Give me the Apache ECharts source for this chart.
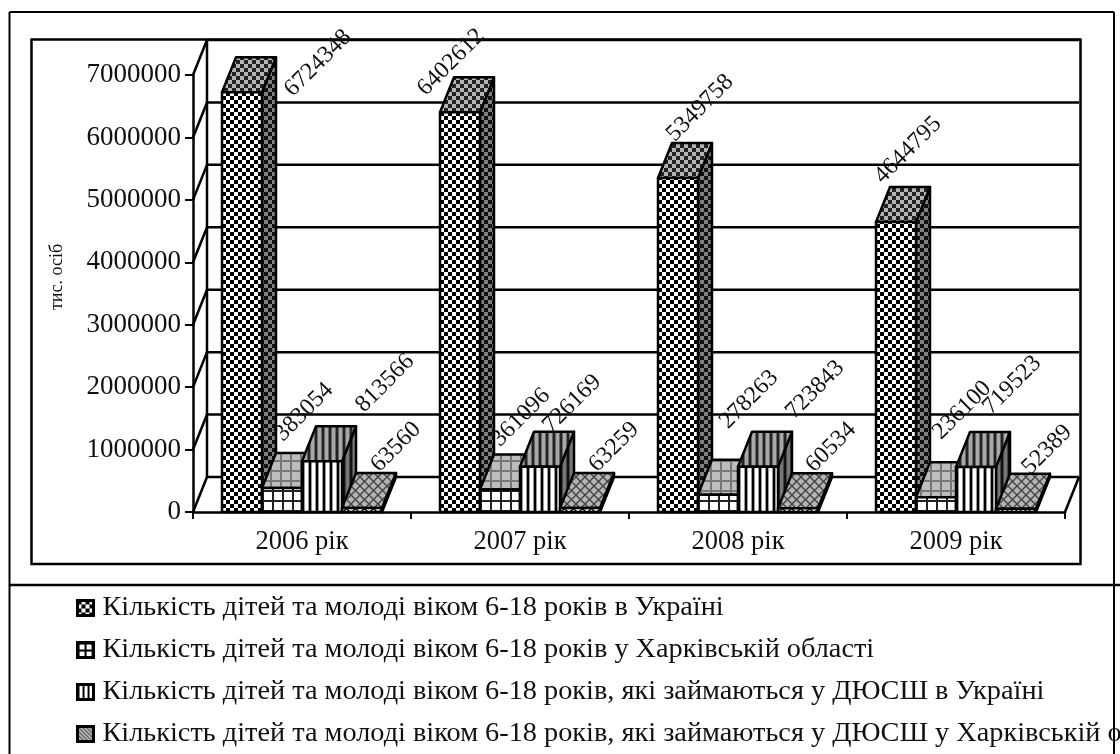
<!DOCTYPE html>
<html>
<head>
<meta charset="utf-8">
<style>
  html, body { margin: 0; padding: 0; background: #fff; }
  #chart { width: 1120px; height: 754px; }
</style>
<script src="https://cdn.jsdelivr.net/npm/echarts@6/dist/echarts.min.js"></script>
</head>
<body>
<div id="chart"></div>
<script>
// data
const categories = ['2006 рік', '2007 рік', '2008 рік', '2009 рік'];
const seriesNames = [
  'Кількість дітей та молоді віком 6-18 років в Україні',
  'Кількість дітей та молоді віком 6-18 років у Харківській області',
  'Кількість дітей та молоді віком 6-18 років, які займаються у ДЮСШ в Україні',
  'Кількість дітей та молоді віком 6-18 років, які займаються у ДЮСШ у Харківській області'
];
const ukraineKids = [6724348, 6402612, 5349758, 4644795];
const kharkivKids = [383054, 361096, 278263, 236100];
const ukraineSport = [813566, 726169, 723843, 719523];
const kharkivSport = [63560, 63259, 60534, 52389];
const yTicks = [0, 1000000, 2000000, 3000000, 4000000, 5000000, 6000000, 7000000];

// hand placed labels in the original, shift from top of the bar [dx, dy]
const labelShift = [
  [[76, -29], [-9, -50], [22, -70], [12, -72]],
  [[22, -76], [21, -72], [31, -95], [26, -87]],
  [[63, -78], [32, -63], [57, -77], [36, -82]],
  [[34, -61], [34, -61], [33, -61], [31, -59]]
];

const FONT = '"Liberation Serif", "Times New Roman", serif';
const DEPTH_X = 14;
const DEPTH_Y = -35;
const BAR_W = 40;

function tile(w, h, draw) {
  const c = document.createElement('canvas');
  c.width = w;
  c.height = h;
  draw(c.getContext('2d'));
  return c;
}

function checker(bg, fg) {
  return tile(8, 8, function (g) {
    g.fillStyle = bg;
    g.fillRect(0, 0, 8, 8);
    g.fillStyle = fg;
    g.fillRect(0, 0, 4, 4);
    g.fillRect(4, 4, 4, 4);
  });
}
function grid(bg, fg, size) {
  return tile(size, size, function (g) {
    g.fillStyle = bg;
    g.fillRect(0, 0, size, size);
    g.fillStyle = fg;
    g.fillRect(0, 0, 2, size);
    g.fillRect(0, 0, size, 2);
  });
}
function stripes(bg, mid, fg) {
  return tile(7, 4, function (g) {
    g.fillStyle = bg;
    g.fillRect(0, 0, 7, 4);
    g.fillStyle = mid;
    g.fillRect(2, 0, 1, 4);
    g.fillRect(6, 0, 1, 4);
    g.fillStyle = fg;
    g.fillRect(0, 0, 2, 4);
  });
}
function trellis(bg, fg) {
  return tile(9, 9, function (g) {
    g.fillStyle = bg;
    g.fillRect(0, 0, 9, 9);
    g.strokeStyle = fg;
    g.lineWidth = 1.4;
    g.beginPath();
    g.moveTo(0, 0); g.lineTo(9, 9);
    g.moveTo(9, 0); g.lineTo(0, 9);
    g.stroke();
  });
}
function diagonal() {
  return tile(4, 4, function (g) {
    g.fillStyle = '#ddd';
    g.fillRect(0, 0, 4, 4);
    g.strokeStyle = '#222';
    g.lineWidth = 1.2;
    g.beginPath();
    g.moveTo(-1, -1); g.lineTo(5, 5);
    g.moveTo(3, -1); g.lineTo(5, 1);
    g.moveTo(-1, 3); g.lineTo(1, 5);
    g.stroke();
  });
}

const faces = [
  { front: checker('#fff', '#000'), top: checker('#b4b4b4', '#222'), side: checker('#808080', '#111') },
  { front: grid('#fff', '#222', 10), top: grid('#bdbdbd', '#777', 10), side: grid('#777', '#222', 10) },
  { front: stripes('#fff', '#999', '#000'), top: stripes('#a8a8a8', '#666', '#222'), side: stripes('#777', '#444', '#111') },
  { front: trellis('#fff', '#000'), top: trellis('#b4b4b4', '#444'), side: trellis('#808080', '#222') }
];
const iconTiles = [
  checker('#fff', '#000'),
  grid('#fff', '#000', 7),
  tile(5, 4, function (g) {
    g.fillStyle = '#fff';
    g.fillRect(0, 0, 5, 4);
    g.fillStyle = '#000';
    g.fillRect(0, 0, 2, 4);
  }),
  diagonal()
];

function pat(image, x, y) {
  return { image: image, repeat: 'repeat', x: x, y: y };
}

function renderBar(s) {
  return function (params, api) {
    const i = api.value(0);
    const val = api.value(1);
    const base = api.coord([i, 0]);
    const topPt = api.coord([i, val]);
    const cx = base[0] + (s - 1.5) * BAR_W;
    const l = cx - BAR_W / 2, r = cx + BAR_W / 2;
    const b = base[1], t = topPt[1];
    const dx = DEPTH_X, dy = DEPTH_Y;
    const line = { stroke: '#000', lineWidth: 2.5, lineJoin: 'round' };
    const shift = labelShift[s][i];
    return {
      type: 'group',
      children: [
        {
          type: 'polygon',
          shape: { points: [[r, b], [r + dx, b + dy], [r + dx, t + dy], [r, t]] },
          style: Object.assign({ fill: pat(faces[s].side, 0, 0) }, line)
        },
        {
          type: 'polygon',
          shape: { points: [[l, t], [l + dx, t + dy], [r + dx, t + dy], [r, t]] },
          style: Object.assign({ fill: pat(faces[s].top, 0, 0) }, line)
        },
        {
          type: 'rect',
          shape: { x: l, y: t, width: BAR_W, height: b - t },
          style: Object.assign({ fill: pat(faces[s].front, l, 0) }, line)
        },
        {
          type: 'text',
          x: cx + shift[0],
          y: t + shift[1],
          rotation: Math.PI / 4,
          z2: 100,
          style: {
            text: String(val),
            font: '24px ' + FONT,
            fill: '#111',
            align: 'center',
            verticalAlign: 'middle'
          }
        }
      ]
    };
  };
}

function renderWall(params, api) {
  const sys = params.coordSys;
  const y = api.coord([0, api.value(0)])[1];
  const x0 = sys.x, x1 = sys.x + sys.width;
  const line = { stroke: '#000', lineWidth: 2.5 };
  const parts = [
    { type: 'line', shape: { x1: x0, y1: y, x2: x0 + DEPTH_X, y2: y + DEPTH_Y }, style: line },
    { type: 'line', shape: { x1: x0 + DEPTH_X, y1: y + DEPTH_Y, x2: x1 + DEPTH_X, y2: y + DEPTH_Y }, style: line }
  ];
  if (api.value(0) === 0) {
    parts.push({ type: 'line', shape: { x1: x1, y1: y, x2: x1 + DEPTH_X, y2: y + DEPTH_Y }, style: line });
    parts.push({ type: 'line', shape: { x1: x0 + DEPTH_X, y1: y + DEPTH_Y, x2: x0 + DEPTH_X, y2: sys.y + DEPTH_Y }, style: line });
  }
  return { type: 'group', children: parts };
}

const allValues = [ukraineKids, kharkivKids, ukraineSport, kharkivSport];

const barSeries = allValues.map(function (vals, s) {
  return {
    name: seriesNames[s],
    type: 'custom',
    coordinateSystem: 'cartesian2d',
    renderItem: renderBar(s),
    encode: { x: 0, y: 1 },
    z: 3,
    animation: false,
    silent: true,
    data: vals.map(function (v, i) { return [i, v]; })
  };
});

const wallSeries = {
  name: 'walls',
  type: 'custom',
  coordinateSystem: 'cartesian2d',
  renderItem: renderWall,
  encode: { y: 0 },
  z: 1,
  animation: false,
  silent: true,
  data: yTicks.map(function (v) { return [v]; })
};

const myChart = echarts.init(document.getElementById('chart'), null, { renderer: 'canvas' });
const option = {
  backgroundColor: '#fff',
  animation: false,
  grid: { left: 193, top: 75, width: 872, height: 437 },
  xAxis: {
    type: 'category',
    data: categories,
    axisLine: { show: true, lineStyle: { color: '#000', width: 2.5 } },
    axisTick: { show: true, length: 7, lineStyle: { color: '#000', width: 2 } },
    axisLabel: { color: '#111', fontFamily: FONT, fontSize: 26.5, margin: 17 },
    z: 5
  },
  yAxis: {
    type: 'value',
    min: 0,
    max: 7000000,
    interval: 1000000,
    splitLine: { show: false },
    axisLine: { show: true, lineStyle: { color: '#000', width: 2.5 } },
    axisTick: { show: true, length: 8, lineStyle: { color: '#000', width: 2 } },
    axisLabel: {
      color: '#111',
      fontFamily: FONT,
      fontSize: 27,
      margin: 12,
      formatter: function (v) { return String(v); }
    }
  },
  legend: {
    left: 76,
    top: 594,
    height: 300,
    padding: 0,
    orient: 'vertical',
    itemWidth: 16,
    itemHeight: 15,
    itemGap: 14,
    icon: 'rect',
    selectedMode: false,
    textStyle: { color: '#111', fontFamily: FONT, fontSize: 28.3, padding: [0, 0, 0, 4] },
    data: seriesNames.map(function (n, s) {
      return {
        name: n,
        itemStyle: { color: pat(iconTiles[s], 0, 0), borderColor: '#000', borderWidth: 3 }
      };
    })
  },
  graphic: [
    { type: 'rect', z: -1, shape: { x: 31.5, y: 39.5, width: 1049, height: 524.5 }, style: { fill: 'none', stroke: '#000', lineWidth: 2.5 } },
    { type: 'line', z: -1, shape: { x1: 9.5, y1: 12, x2: 1114, y2: 12 }, style: { stroke: '#000', lineWidth: 2 } },
    { type: 'line', z: -1, shape: { x1: 9.5, y1: 12, x2: 9.5, y2: 754 }, style: { stroke: '#000', lineWidth: 2 } },
    { type: 'line', z: -1, shape: { x1: 1114, y1: 12, x2: 1114, y2: 754 }, style: { stroke: '#000', lineWidth: 2 } },
    { type: 'line', z: -1, shape: { x1: 9.5, y1: 585, x2: 1120, y2: 585 }, style: { stroke: '#000', lineWidth: 2.5 } },
    {
      type: 'text',
      x: 57,
      y: 277,
      rotation: Math.PI / 2,
      scaleY: 1.1,
      style: { text: 'тис. осіб', font: '18px ' + FONT, fill: '#111', align: 'center', verticalAlign: 'middle' }
    }
  ],
  series: [wallSeries].concat(barSeries)
};
myChart.setOption(option);
</script>
</body>
</html>
